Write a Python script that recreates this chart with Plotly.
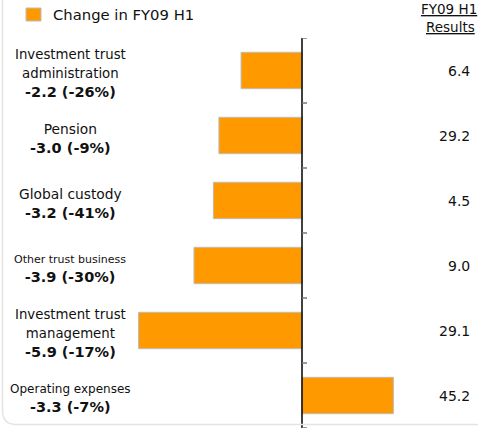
import plotly.graph_objects as go

categories = ["Investment trust<br>administration", "Pension", "Global custody",
              "Other trust business", "Investment trust<br>management", "Operating expenses"]
change_labels = ["-2.2 (-26%)", "-3.0 (-9%)", "-3.2 (-41%)", "-3.9 (-30%)", "-5.9 (-17%)", "-3.3 (-7%)"]
bar_values = [-2.2, -3.0, -3.2, -3.9, -5.9, 3.3]
results = ["6.4", "29.2", "4.5", "9.0", "29.1", "45.2"]
label_sizes = [13.3, 13.8, 13.8, 11, 13.3, 12]

W, H = 479, 428
x0px, x1px = 80, 470
y0px, y1px = 38, 428
ppu = 27.7
zero_px = 302
xmin = -(zero_px - x0px) / ppu
xmax = (x1px - zero_px) / ppu

ORANGE = "#FF9900"
FONT = "DejaVu Sans"

idx = list(range(len(categories)))

fig = go.Figure()
fig.add_trace(go.Bar(
    x=bar_values, y=idx, orientation="h", width=0.56,
    marker=dict(color=ORANGE, line=dict(color="#BDBDBD", width=1)),
    name="Change in FY09 H1", showlegend=False, hoverinfo="skip",
))

fig.update_layout(
    width=W, height=H,
    margin=dict(l=x0px, r=W - x1px, t=y0px, b=H - y1px),
    paper_bgcolor="white", plot_bgcolor="white",
    xaxis=dict(range=[xmin, xmax], visible=False, fixedrange=True),
    yaxis=dict(range=[len(categories) - 0.5, -0.5], visible=False, fixedrange=True),
    showlegend=False,
    font=dict(family=FONT, color="#111111"),
)

def px_x(p):
    return (p - x0px) / (x1px - x0px)

def px_y(p):
    return 1 - (p - y0px) / (y1px - y0px)

ann = []
for i, (c, lab, r, sz) in enumerate(zip(categories, change_labels, results, label_sizes)):
    text = f"<span style='font-size:{sz}px'>{c}</span><br><b>{lab}</b>"
    ann.append(dict(x=px_x(70), y=i, xref="paper", yref="y", text=text,
                    showarrow=False, xanchor="center", yanchor="middle", yshift=-3,
                    align="center", font=dict(size=14.5, family=FONT, color="#111111")))
    ann.append(dict(x=px_x(472), y=i, xref="paper", yref="y", text=r,
                    showarrow=False, xanchor="right", yanchor="middle",
                    font=dict(size=14, family=FONT, color="#111111")))

ann.append(dict(x=px_x(479), y=px_y(9), xref="paper", yref="paper",
                text="<u>FY09 H1</u>", showarrow=False, xanchor="right", yanchor="middle",
                font=dict(size=13.5, family=FONT, color="#111111")))
ann.append(dict(x=px_x(477), y=px_y(27), xref="paper", yref="paper",
                text="<u>Results</u>", showarrow=False, xanchor="right", yanchor="middle",
                font=dict(size=13.5, family=FONT, color="#111111")))
ann.append(dict(x=px_x(51), y=px_y(15), xref="paper", yref="paper",
                text="Change in FY09 H1", showarrow=False, xanchor="left", yanchor="middle",
                font=dict(size=14.8, family=FONT, color="#111111")))
fig.update_layout(annotations=ann)

shapes = []
# legend swatch
shapes.append(dict(type="rect", xref="paper", yref="paper",
                   x0=px_x(26), x1=px_x(41), y0=px_y(8), y1=px_y(21),
                   fillcolor=ORANGE, line=dict(color="#BDBDBD", width=1)))
# axis line
shapes.append(dict(type="line", xref="x", yref="paper", x0=0, x1=0, y0=0, y1=1,
                   line=dict(color="black", width=1.5)))
# ticks at category boundaries
for k in range(len(categories) + 1):
    yb = k - 0.5
    shapes.append(dict(type="line", xref="x", yref="y", x0=0, x1=5 / ppu, y0=yb, y1=yb,
                       line=dict(color="#777777", width=1.5)))
# faint rounded border (left + bottom)
r = 14
shapes.append(dict(type="path", xref="paper", yref="paper",
                   path=f"M {px_x(2.5)},{px_y(0)} L {px_x(2.5)},{px_y(424.5 - r)} "
                        f"Q {px_x(2.5)},{px_y(424.5)} {px_x(2.5 + r)},{px_y(424.5)} "
                        f"L {px_x(478)},{px_y(424.5)}",
                   line=dict(color="#E4E4E4", width=1.5)))
fig.update_layout(shapes=shapes)

fig.write_html("out.html", config={"displayModeBar": False},
               post_script="document.body.style.margin='0px';")
